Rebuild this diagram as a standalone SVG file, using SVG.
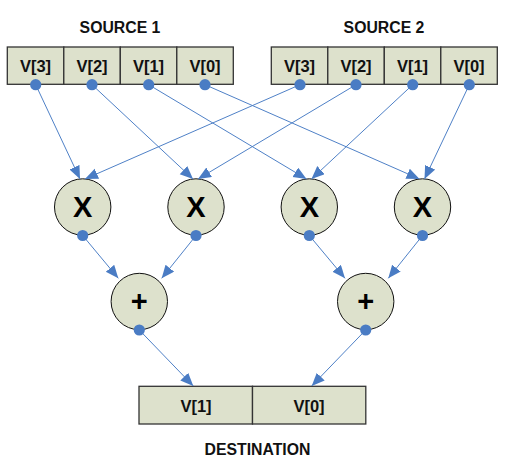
<svg xmlns="http://www.w3.org/2000/svg" width="509" height="472" viewBox="0 0 509 472">
<defs>
<style>
.lbl{font-family:"Liberation Sans",Arial,sans-serif;font-weight:bold;font-size:15.8px;fill:#111;text-anchor:middle}
.cell{fill:#dde1cc;stroke:#333;stroke-width:1.3}
.ct{font-family:"Liberation Sans",Arial,sans-serif;font-weight:bold;font-size:16.5px;fill:#111;text-anchor:middle}
.op{fill:#dde1cc;stroke:#111;stroke-width:1}
.ot{font-family:"Liberation Sans",Arial,sans-serif;font-weight:bold;font-size:29px;fill:#000;text-anchor:middle}
.dot{fill:#4a7cc4}
.conn line{stroke:#4f81c7;stroke-width:1;marker-end:url(#ah)}
</style>
<marker id="ah" markerUnits="userSpaceOnUse" markerWidth="14" markerHeight="12" refX="13" refY="5.5" orient="auto">
<path d="M0,0 L13,5.5 L0,11 z" fill="#4a7cc4"/>
</marker>
</defs>
<rect width="509" height="472" fill="#fff"/>
<g id="source1">
<text class="lbl" x="120" y="32.5">SOURCE 1</text>
<rect class="cell" x="7.3" y="47" width="56.5" height="37.3"/>
<rect class="cell" x="63.8" y="47" width="56.5" height="37.3"/>
<rect class="cell" x="120.3" y="47" width="56.5" height="37.3"/>
<rect class="cell" x="176.8" y="47" width="56.5" height="37.3"/>
<text class="ct" x="35.5" y="71.5">V[3]</text>
<text class="ct" x="92" y="71.5">V[2]</text>
<text class="ct" x="148.5" y="71.5">V[1]</text>
<text class="ct" x="205" y="71.5">V[0]</text>
</g>
<g id="source2">
<text class="lbl" x="384" y="32.5">SOURCE 2</text>
<rect class="cell" x="271.3" y="47" width="56.5" height="37.3"/>
<rect class="cell" x="327.8" y="47" width="56.5" height="37.3"/>
<rect class="cell" x="384.3" y="47" width="56.5" height="37.3"/>
<rect class="cell" x="440.8" y="47" width="56.5" height="37.3"/>
<text class="ct" x="299.5" y="71.5">V[3]</text>
<text class="ct" x="356" y="71.5">V[2]</text>
<text class="ct" x="412.5" y="71.5">V[1]</text>
<text class="ct" x="469" y="71.5">V[0]</text>
</g>
<g id="mul1"><circle class="op" cx="82.7" cy="207" r="28.2"/><text class="ot" x="82.7" y="217">X</text></g>
<g id="mul2"><circle class="op" cx="196" cy="207" r="28.2"/><text class="ot" x="196" y="217">X</text></g>
<g id="mul3"><circle class="op" cx="309.3" cy="207" r="28.2"/><text class="ot" x="309.3" y="217">X</text></g>
<g id="mul4"><circle class="op" cx="422.5" cy="207" r="28.2"/><text class="ot" x="422.5" y="217">X</text></g>
<g id="add1"><circle class="op" cx="139.3" cy="301.5" r="28.2"/><text class="ot" x="139.3" y="310.5">+</text></g>
<g id="add2"><circle class="op" cx="365.7" cy="301.5" r="28.2"/><text class="ot" x="365.7" y="310.5">+</text></g>
<g id="destination">
<rect class="cell" x="139" y="386.3" width="113.5" height="37.7"/>
<rect class="cell" x="252.5" y="386.3" width="113.3" height="37.7"/>
<text class="ct" x="196" y="411.5">V[1]</text>
<text class="ct" x="309" y="411.5">V[0]</text>
<text class="lbl" x="257.5" y="455">DESTINATION</text>
</g>
<g id="connectors" class="conn">
<line x1="35.7" y1="84.7" x2="80" y2="179"/>
<line x1="300" y1="84.7" x2="85" y2="179"/>
<line x1="92" y1="84.7" x2="193" y2="179"/>
<line x1="356" y1="84.7" x2="198" y2="179"/>
<line x1="148.7" y1="84.7" x2="306.5" y2="179"/>
<line x1="412.7" y1="84.7" x2="311.5" y2="179"/>
<line x1="205" y1="84.7" x2="419.5" y2="179"/>
<line x1="469.3" y1="84.7" x2="424.5" y2="179"/>
<line x1="82.7" y1="235.5" x2="118.3" y2="278.3"/>
<line x1="196" y1="235.5" x2="161.7" y2="278.3"/>
<line x1="309.3" y1="235.5" x2="345" y2="278.3"/>
<line x1="422.5" y1="235.5" x2="388.3" y2="278.3"/>
<line x1="139.3" y1="330" x2="193.3" y2="386"/>
<line x1="365.7" y1="330" x2="311.7" y2="386"/>
</g>
<g id="dots">
<circle class="dot" cx="35.7" cy="84.7" r="5.6"/>
<circle class="dot" cx="92" cy="84.7" r="5.6"/>
<circle class="dot" cx="148.7" cy="84.7" r="5.6"/>
<circle class="dot" cx="205" cy="84.7" r="5.6"/>
<circle class="dot" cx="300" cy="84.7" r="5.6"/>
<circle class="dot" cx="356" cy="84.7" r="5.6"/>
<circle class="dot" cx="412.7" cy="84.7" r="5.6"/>
<circle class="dot" cx="469.3" cy="84.7" r="5.6"/>
<circle class="dot" cx="82.7" cy="235.5" r="5.6"/>
<circle class="dot" cx="196" cy="235.5" r="5.6"/>
<circle class="dot" cx="309.3" cy="235.5" r="5.6"/>
<circle class="dot" cx="422.5" cy="235.5" r="5.6"/>
<circle class="dot" cx="139.3" cy="330" r="5.6"/>
<circle class="dot" cx="365.7" cy="330" r="5.6"/>
</g>
</svg>
